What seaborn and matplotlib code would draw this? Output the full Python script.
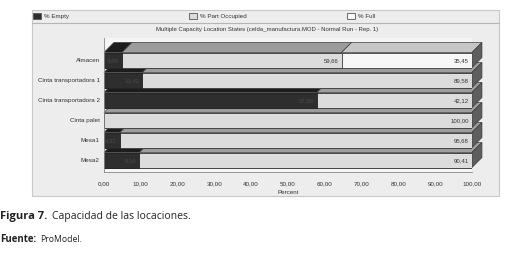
import numpy as np
import pandas as pd
import matplotlib.pyplot as plt
import seaborn as sns
from matplotlib.patches import Polygon, Rectangle, Patch
from matplotlib.lines import Line2D

locaciones = ["Almacen", "Cinta transportadora 1", "Cinta transportadora 2",
              "Cinta palet", "Mesa1", "Mesa2"]
pct_empty = [4.89, 10.42, 57.88, 0.00, 4.32, 9.59]
pct_part = [59.66, 89.58, 42.12, 100.00, 95.68, 90.41]
pct_full = [35.45, 0.00, 0.00, 0.00, 0.00, 0.00]
series_names = ["% Empty", "% Part Occupied", "% Full"]
x_ticks = [0, 10, 20, 30, 40, 50, 60, 70, 80, 90, 100]

df = pd.DataFrame({"loc": locaciones, "empty": pct_empty,
                   "part": pct_part, "full": pct_full})
df["c1"] = df["empty"]
df["c2"] = df["empty"] + df["part"]
df["c3"] = df["c2"] + df["full"]

front = {"empty": "#2e2e2e", "part": "#dcdcdc", "full": "#f7f7f7"}
topc = {"empty": "#1c1c1c", "part": "#9c9c9c", "full": "#c6c6c6"}

sns.set_style("white")
plt.rcParams["font.family"] = ["Liberation Sans", "DejaVu Sans"]

W, H = 510, 254
fig = plt.figure(figsize=(5.10, 2.54), dpi=100)
fig.patch.set_facecolor("white")

# panel gris de ProModel
fig.patches.append(Rectangle((32 / W, 1 - 196 / H), 467 / W, 186 / H,
                             transform=fig.transFigure, facecolor="#ededed",
                             edgecolor="#c8c8c8", linewidth=0.8, zorder=-5))
fig.lines.append(Line2D([32 / W, 499 / W], [1 - 22.5 / H, 1 - 22.5 / H],
                        transform=fig.transFigure, color="#b5b5b5", lw=0.8, zorder=-4))

ax = fig.add_axes([104 / W, 1 - 172 / H, 368 / W, 134 / H])
ax.set_facecolor("#f5f5f5")

bw = 0.75
# barras apiladas: total, luego empty+part, luego empty
sns.barplot(data=df, x="c3", y="loc", orient="h", color=front["full"],
            width=bw, edgecolor="#3a3a3a", linewidth=0.6, ax=ax, saturation=1)
sns.barplot(data=df, x="c2", y="loc", orient="h", color=front["part"],
            width=bw, edgecolor="#3a3a3a", linewidth=0.6, ax=ax, saturation=1)
sns.barplot(data=df, x="c1", y="loc", orient="h", color=front["empty"],
            width=bw, edgecolor="#222222", linewidth=0.6, ax=ax, saturation=1)

ax.set_xlim(0, 100)
ax.set_ylim(5.6, -1.1)

# efecto 3D: caras superiores (detras de la barra de arriba) y lateral
dx, dy = 2.7, 0.5
for i, row in df.iterrows():
    ytop = i - bw / 2
    ybot = i + bw / 2
    segs = [("empty", 0, row["c1"]), ("part", row["c1"], row["c2"]),
            ("full", row["c2"], row["c3"])]
    for key, a, b in segs:
        if b - a <= 0:
            continue
        ax.add_patch(Polygon([(a, ytop), (b, ytop), (b + dx, ytop - dy), (a + dx, ytop - dy)],
                             closed=True, facecolor=topc[key], edgecolor="#3a3a3a",
                             linewidth=0.5, clip_on=False, zorder=0.5))
    end = row["c3"]
    ax.add_patch(Polygon([(end, ytop), (end + dx, ytop - dy), (end + dx, ybot - dy), (end, ybot)],
                         closed=True, facecolor="#5e5e5e", edgecolor="#3a3a3a",
                         linewidth=0.5, clip_on=False, zorder=0.6 + 0.01 * i))
    # etiquetas de valores
    for key, a, b in segs:
        v = b - a
        if v <= 0:
            continue
        col = "#4a4a4a" if key == "empty" else "#333333"
        ax.text(b - 0.8, i + 0.05, f"{v:.2f}".replace(".", ","), ha="right", va="center",
                fontsize=4.3, color=col, zorder=5)

ax.set_xticks(x_ticks)
ax.set_xticklabels([f"{t:.2f}".replace(".", ",") for t in x_ticks], fontsize=4.5, color="#333333")
ax.tick_params(axis="x", length=2, width=0.5, color="#777777", pad=5)
ax.tick_params(axis="y", length=2, width=0.5, color="#777777", pad=1, labelsize=4.5,
               labelcolor="#333333")
ax.set_xlabel("Percent", fontsize=4.5, color="#333333", labelpad=2)
ax.set_ylabel("")
for s in ["top", "right"]:
    ax.spines[s].set_visible(False)
for s in ["left", "bottom"]:
    ax.spines[s].set_color("#888888")
    ax.spines[s].set_linewidth(0.6)

fig.text(267 / W, 1 - 30 / H,
         "Multiple Capacity Location States (celda_manufactura.MOD - Normal Run - Rep. 1)",
         ha="center", va="center", fontsize=4.3, color="#333333")

# leyenda: un elemento en cada columna del panel
leg_x = [32, 188, 346]
for k, name, lx in zip(["empty", "part", "full"], series_names, leg_x):
    h = Patch(facecolor=front[k], edgecolor="#555555", linewidth=0.6)
    fig.legend([h], [name], loc="center left", bbox_to_anchor=(lx / W, 1 - 16 / H),
               frameon=False, fontsize=4.5, handlelength=1.2, handleheight=1.2,
               handletextpad=0.5, borderaxespad=0, borderpad=0.2, labelcolor="#333333")

# pie de figura
fig.text(0, 1 - 216 / H, "Figura 7.", fontsize=8, fontweight="bold", va="center",
         family=["Open Sans", "DejaVu Sans"], color="#222222")
fig.text(52 / W, 1 - 216 / H, "Capacidad de las locaciones.", fontsize=7.5, va="center",
         family=["Open Sans", "DejaVu Sans"], color="#222222")
fig.text(0, 1 - 240 / H, "Fuente:", fontsize=7, fontweight="bold", va="center",
         family=["Open Sans", "DejaVu Sans"], color="#222222")
fig.text(40 / W, 1 - 240 / H, "ProModel.", fontsize=6.2, va="center",
         family=["Open Sans", "DejaVu Sans"], color="#222222")

fig.savefig("out.png", dpi=100)
